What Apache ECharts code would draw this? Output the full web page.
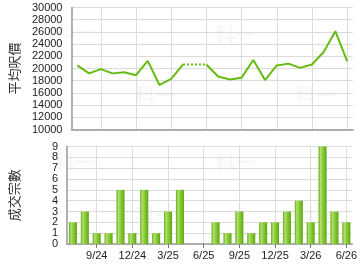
<!DOCTYPE html>
<html><head><meta charset="utf-8">
<script src="https://cdn.jsdelivr.net/npm/echarts@6/dist/echarts.min.js"></script>
<style>html,body{margin:0;padding:0;background:#fff}#c{width:360px;height:270px}</style>
</head><body><div id="c"></div>
<script>
const categories = ['7/24','8/24','9/24','10/24','11/24','12/24','1/25','2/25','3/25','4/25','5/25','6/25',
  '7/25','8/25','9/25','10/25','11/25','12/25','1/26','2/26','3/26','4/26','5/26','6/26'];
const avgPrice = [20500,19200,19900,19200,19400,18900,21250,17300,18300,20650,null,20650,
  18700,18200,18500,21400,18100,20500,20800,20100,20650,22700,26100,21200];
const gapPrice = [null,null,null,null,null,null,null,null,null,20650,20650,20650,
  null,null,null,null,null,null,null,null,null,null,null,null];
const deals = [2,3,1,1,5,1,5,1,3,5,0,0,2,1,3,1,2,2,3,4,2,9,3,2];
const priceTitle = '平均呎價';
const dealTitle = '成交宗數';
const watermark = '科一';

const font = 'Liberation Sans, Arial, sans-serif';
const showIdx = (i) => (i - 2) % 3 === 0;
const gridLine = {show: true, lineStyle: {color: '#dcdcdc', width: 1}};
const barColor = new echarts.graphic.LinearGradient(0,0,1,0,[
  {offset:0,color:'#5fa80c'},{offset:0.25,color:'#b2e070'},{offset:0.5,color:'#8fcd40'},
  {offset:0.85,color:'#6cb51c'},{offset:1,color:'#5a9e0a'}]);

const wm = [];
[[55,22],[135,85],[215,24],[295,85],[55,152],[135,205],[215,152],[295,205]].forEach(p => {
  wm.push({type:'text', left:p[0], top:p[1], silent:true, z:0,
    style:{text:watermark, fill:'rgba(0,0,0,0.03)', font:'bold 20px "Noto Sans CJK TC", sans-serif'}});
});

const chart = echarts.init(document.getElementById('c'), null, {renderer:'canvas'});
chart.setOption({
  animation:false,
  graphic: wm,
  grid:[
    {left:65, top:7.5, width:288, height:122},
    {left:65, top:146.5, width:288, height:97.5}
  ],
  xAxis:[
    {gridIndex:0, type:'category', data:categories, boundaryGap:true,
      axisLine:{show:true, lineStyle:{color:'#999', width:1.5}},
      axisTick:{show:false}, axisLabel:{show:false},
      splitLine:Object.assign({interval:(i)=>showIdx(i), alignWithLabel:true}, gridLine)},
    {gridIndex:1, type:'category', data:categories, boundaryGap:true,
      axisLine:{show:true, lineStyle:{color:'#999', width:1.5}},
      axisTick:{show:true, alignWithLabel:true, interval:(i)=>showIdx(i), length:4, lineStyle:{color:'#777'}},
      axisLabel:{interval:(i)=>showIdx(i), color:'#222', fontSize:11, fontFamily:font, margin:6},
      splitLine:Object.assign({interval:(i)=>showIdx(i), alignWithLabel:true}, gridLine)}
  ],
  yAxis:[
    {gridIndex:0, type:'value', min:10000, max:30000, interval:2000,
      name:priceTitle, nameLocation:'middle', nameGap:46, nameRotate:90,
      nameTextStyle:{color:'#333', fontSize:13, fontFamily:'"Noto Sans CJK TC", sans-serif'},
      axisLine:{show:true, lineStyle:{color:'#999', width:1.5}}, axisTick:{show:false},
      axisLabel:{color:'#222', fontSize:11, fontFamily:font, margin:9, formatter:(v)=>String(v)},
      splitLine:gridLine},
    {gridIndex:1, type:'value', min:0, max:9, interval:1,
      name:dealTitle, nameLocation:'middle', nameGap:46, nameRotate:90,
      nameTextStyle:{color:'#333', fontSize:13, fontFamily:'"Noto Sans CJK TC", sans-serif'},
      axisLine:{show:true, lineStyle:{color:'#999', width:1.5}}, axisTick:{show:false},
      axisLabel:{color:'#222', fontSize:11, fontFamily:font, margin:9, formatter:(v)=>String(v)},
      splitLine:gridLine}
  ],
  series:[
    {type:'line', xAxisIndex:0, yAxisIndex:0, data:gapPrice, symbol:'none', connectNulls:false,
      lineStyle:{color:'#66bb11', width:2, type:[2,2]}, z:3},
    {type:'line', xAxisIndex:0, yAxisIndex:0, data:avgPrice, symbol:'none', connectNulls:false,
      lineStyle:{color:'#66bb11', width:2}, z:4},
    {type:'bar', xAxisIndex:1, yAxisIndex:1, data:deals, barWidth:8,
      itemStyle:{color:barColor, borderWidth:0}}
  ]
});
</script></body></html>
